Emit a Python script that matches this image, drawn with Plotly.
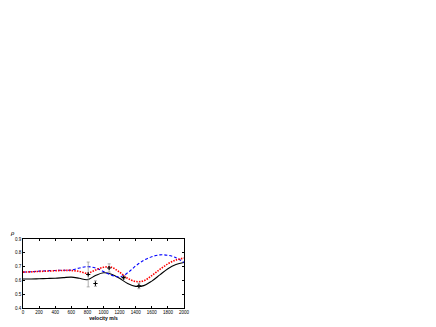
import plotly.graph_objects as go

# velocity grid (m/s)
velocity = [0, 100, 200, 300, 400, 500, 600, 700, 800, 900, 1000,
            1100, 1200, 1300, 1400, 1500, 1600, 1700, 1800, 1900, 2000]

rho_black = [0.61, 0.61, 0.612, 0.614, 0.616, 0.62, 0.624, 0.615, 0.605, 0.635, 0.655,
             0.645, 0.615, 0.578, 0.557, 0.562, 0.595, 0.64, 0.685, 0.715, 0.73]
rho_red = [0.66, 0.662, 0.665, 0.667, 0.67, 0.672, 0.672, 0.665, 0.652, 0.675, 0.695,
           0.695, 0.66, 0.615, 0.592, 0.597, 0.635, 0.68, 0.72, 0.748, 0.762]
rho_blue = [0.66, 0.663, 0.667, 0.67, 0.672, 0.674, 0.675, 0.69, 0.70, 0.69, 0.665,
            0.638, 0.625, 0.655, 0.705, 0.745, 0.772, 0.785, 0.782, 0.765, 0.73]

# measured points
exp_v = [810, 900, 1070, 1250, 1440]
exp_rho = [0.643, 0.577, 0.69, 0.62, 0.56]
exp_err = [0.09, 0.02, 0.03, 0.01, 0.02]

fig = go.Figure()

fig.add_trace(go.Scatter(x=velocity, y=rho_black, mode="lines", line_shape="spline",
                         line=dict(color="black", width=1.1)))
fig.add_trace(go.Scatter(x=velocity, y=rho_blue, mode="lines", line_shape="spline",
                         line=dict(color="blue", width=1.1, dash="3px,2px")))
fig.add_trace(go.Scatter(x=velocity, y=rho_red, mode="lines", line_shape="spline",
                         line=dict(color="red", width=1.6, dash="1.5px,1.2px")))
fig.add_trace(go.Scatter(x=exp_v, y=exp_rho, mode="markers",
                         marker=dict(symbol="cross-thin", size=3, color="black",
                                     line=dict(color="black", width=1.1)),
                         error_y=dict(type="data", array=exp_err, color="#999999",
                                      thickness=0.8, width=1.5)))

axis_common = dict(showgrid=False, zeroline=False, showline=True, linecolor="black",
                   linewidth=0.8, mirror="ticks", ticks="inside", ticklen=2,
                   tickcolor="black", automargin=False,
                   tickfont=dict(size=4.5, family="Arial", color="black"))

fig.update_xaxes(range=[0, 2000], dtick=200, **axis_common,
                 title=dict(text="<b>velocity m/s</b>",
                            font=dict(size=5, family="Arial", color="black"),
                            standoff=1))
fig.update_yaxes(range=[0.4, 0.9], dtick=0.1, tickformat=".1f", **axis_common)

fig.add_annotation(text="<i>ρ</i>", xref="paper", yref="paper", x=-0.04, y=1.0,
                   xanchor="right", yanchor="bottom", showarrow=False,
                   font=dict(size=7, family="Times New Roman", color="black"))

# page body adds an 8px offset, so the figure is sized to fit inside the window
fig.update_layout(width=428, height=319, showlegend=False,
                  plot_bgcolor="white", paper_bgcolor="white",
                  margin=dict(l=15, r=252, t=231, b=19))

fig.write_html("out.html")
